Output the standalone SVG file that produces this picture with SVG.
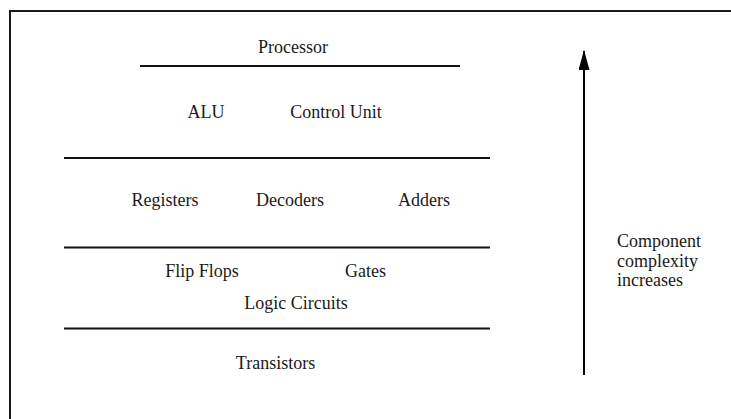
<svg xmlns="http://www.w3.org/2000/svg" width="731" height="419" viewBox="0 0 731 419">
  <style>
    text { font-family: 'Liberation Serif', 'DejaVu Serif', serif; font-size: 18px; fill: #1a1a1a; }
    .lbl { text-anchor: middle; }
    .sep { stroke: #111; stroke-width: 2; fill: none; }
  </style>
  <defs>
    <marker id="head" markerWidth="11" markerHeight="20" refX="5.5" refY="1" orient="0" markerUnits="userSpaceOnUse">
      <path d="M5.5,0 L11,20 L0,20 Z" fill="#000"/>
    </marker>
  </defs>
  <rect width="731" height="419" fill="#fff"/>
  <!-- frame: only top and left edges fall inside the canvas -->
  <rect x="10" y="11" width="740" height="430" fill="none" stroke="#1a1a1a" stroke-width="2"/>

  <g id="level-separators">
    <line class="sep" x1="140" y1="66" x2="460" y2="66"/>
    <line class="sep" x1="64" y1="158" x2="490" y2="158"/>
    <line class="sep" x1="64" y1="247.5" x2="490" y2="247.5"/>
    <line class="sep" x1="64" y1="328.5" x2="490" y2="328.5"/>
  </g>

  <g id="processor"><text class="lbl" x="293" y="53" font-family="Liberation Serif, serif">Processor</text></g>
  <g id="alu"><text class="lbl" x="206" y="117.5">ALU</text></g>
  <g id="control-unit"><text class="lbl" x="336" y="117.5">Control Unit</text></g>
  <g id="registers"><text class="lbl" x="165" y="206">Registers</text></g>
  <g id="decoders"><text class="lbl" x="290" y="206">Decoders</text></g>
  <g id="adders"><text class="lbl" x="424" y="206">Adders</text></g>
  <g id="flip-flops"><text class="lbl" x="202" y="277">Flip Flops</text></g>
  <g id="gates"><text class="lbl" x="365.5" y="277">Gates</text></g>
  <g id="logic-circuits"><text class="lbl" x="296" y="309">Logic Circuits</text></g>
  <g id="transistors"><text class="lbl" x="275.5" y="369">Transistors</text></g>

  <g id="connectors">
    <line x1="584" y1="375" x2="584" y2="51" stroke="#000" stroke-width="2" marker-end="url(#head)"/>
  </g>

  <g id="complexity-note">
    <text x="617" y="247">Component</text>
    <text x="617" y="266.5">complexity</text>
    <text x="617" y="286">increases</text>
  </g>
</svg>
